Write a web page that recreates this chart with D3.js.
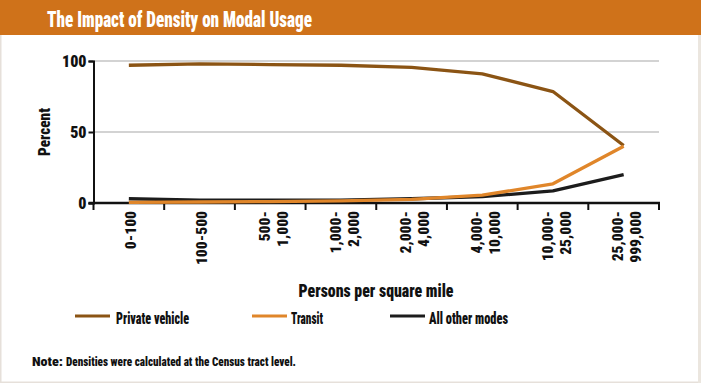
<!DOCTYPE html>
<html><head><meta charset="utf-8">
<script src="https://cdn.jsdelivr.net/npm/d3@7"></script>
<style>
html,body{margin:0;padding:0;background:#fff;}
svg{display:block;}
text{font-family:"Liberation Sans Narrow","Arial Narrow","Roboto Condensed",sans-serif;font-weight:900;}
</style></head>
<body>
<svg id="chart" width="701" height="383"></svg>
<script>
const categories = [["0-100"],["100-500"],["500-","1,000"],["1,000-","2,000"],["2,000-","4,000"],["4,000-","10,000"],["10,000-","25,000"],["25,000-","999,000"]];
const privateVehicle = [97, 98, 97.5, 97, 95.5, 91, 78.5, 40.5];
const transit = [0.5, 0.7, 1, 1.5, 2.5, 5.5, 13.5, 40];
const otherModes = [3, 2, 2, 2, 3, 4.5, 8.5, 20];
const yTicks = [0, 50, 100];
const seriesNames = ["Private vehicle", "Transit", "All other modes"];
const seriesColors = ["#8b5414", "#e0862a", "#1c1c1c"];

const svg = d3.select("#chart");
const W = 701, H = 383;

// frame
svg.append("rect").attr("x",0.75).attr("y",0.75).attr("width",W-1.5).attr("height",H-1.5)
  .attr("fill","#fff").attr("stroke","#e6e0da").attr("stroke-width",1.5);
svg.append("rect").attr("x",698).attr("y",0).attr("width",3).attr("height",H).attr("fill","#ebe6df");
// header
svg.append("rect").attr("x",0).attr("y",0).attr("width",W).attr("height",35).attr("fill","#cf721a");
svg.append("text").attr("x",47).attr("y",27).attr("fill","#fff").attr("font-size",22)
  .attr("textLength",265).attr("lengthAdjust","spacingAndGlyphs")
  .text("The Impact of Density on Modal Usage");

const x0 = 93.5, x1 = 659, yTop = 61, yBot = 203;
const keys = categories.map((d,i)=>i);
const x = d3.scaleBand().domain(keys).range([x0, x1]);
const y = d3.scaleLinear().domain([0,100]).range([yBot, yTop]);

// gridlines
svg.append("g").selectAll("line").data(yTicks.filter(d=>d>0)).join("line")
  .attr("x1",x0).attr("x2",x1).attr("y1",d=>y(d)).attr("y2",d=>y(d))
  .attr("stroke","#c4c4c4").attr("stroke-width",1.5);

// y axis
const yAxis = svg.append("g").attr("transform",`translate(${x0},0)`)
  .call(d3.axisLeft(y).tickValues(yTicks).tickSize(5).tickPadding(2));
yAxis.select(".domain").attr("stroke","#111").attr("stroke-width",2);
yAxis.selectAll(".tick line").attr("stroke","#111").attr("stroke-width",2);
yAxis.selectAll(".tick text").attr("font-size",16).attr("fill","#111")
  .attr("font-family",'"Liberation Sans Narrow","Arial Narrow","Roboto Condensed",sans-serif').attr("font-weight","900");

svg.append("text").attr("transform","translate(50,132) rotate(-90)").attr("text-anchor","middle")
  .attr("font-size",16).attr("fill","#111").attr("textLength",48).attr("lengthAdjust","spacingAndGlyphs")
  .text("Percent");

// x axis
const bounds = keys.map(k=>x(k)).concat([x1]);
svg.append("line").attr("x1",x0-5).attr("x2",x1+1).attr("y1",yBot).attr("y2",yBot)
  .attr("stroke","#111").attr("stroke-width",2.5);
svg.append("g").selectAll("line").data(bounds).join("line")
  .attr("x1",d=>d).attr("x2",d=>d).attr("y1",yBot).attr("y2",yBot+7)
  .attr("stroke","#111").attr("stroke-width",2);

const labG = svg.append("g");
categories.forEach((lines,i)=>{
  const cx = x(i) + x.bandwidth()/2;
  const offs = lines.length === 1 ? [1.5] : [-6, 12];
  lines.forEach((t,j)=>{
    labG.append("text").attr("transform",`translate(${cx+offs[j]},211) rotate(-90)`)
      .attr("text-anchor","end").attr("dy","0.36em").attr("font-size",15.5).attr("fill","#111").text(t);
  });
});

svg.append("text").attr("x",376).attr("y",297).attr("text-anchor","middle").attr("font-size",18)
  .attr("fill","#111").attr("textLength",155).attr("lengthAdjust","spacingAndGlyphs")
  .text("Persons per square mile");

// lines
const line = d3.line().x((d,i)=>x(i)+x.bandwidth()/2).y(d=>y(d));
const series = [privateVehicle, otherModes, transit];
const sColors = [seriesColors[0], seriesColors[2], seriesColors[1]];
series.forEach((s,k)=>{
  svg.append("path").datum(s).attr("d",line).attr("fill","none")
    .attr("stroke",sColors[k]).attr("stroke-width",3.3).attr("stroke-linejoin","round");
});

// legend
const legend = [
  {name:seriesNames[0], color:seriesColors[0], lx:75, tx:116, tl:73},
  {name:seriesNames[1], color:seriesColors[1], lx:252, tx:291, tl:32},
  {name:seriesNames[2], color:seriesColors[2], lx:390, tx:429, tl:79}
];
legend.forEach(l=>{
  svg.append("line").attr("x1",l.lx).attr("x2",l.lx+35).attr("y1",316).attr("y2",316)
    .attr("stroke",l.color).attr("stroke-width",3);
  svg.append("text").attr("x",l.tx).attr("y",323.5).attr("font-size",16).attr("fill","#111")
    .attr("textLength",l.tl).attr("lengthAdjust","spacingAndGlyphs").text(l.name);
});

// note
svg.append("text").attr("x",32).attr("y",366).attr("font-size",13).attr("fill","#111")
  .attr("textLength",31).attr("lengthAdjust","spacingAndGlyphs").attr("font-weight","900").text("Note:");
svg.append("text").attr("x",66).attr("y",366).attr("font-size",13).attr("fill","#111")
  .attr("textLength",230).attr("lengthAdjust","spacingAndGlyphs").attr("font-weight","bold")
  .text("Densities were calculated at the Census tract level.");
</script>
</body></html>
